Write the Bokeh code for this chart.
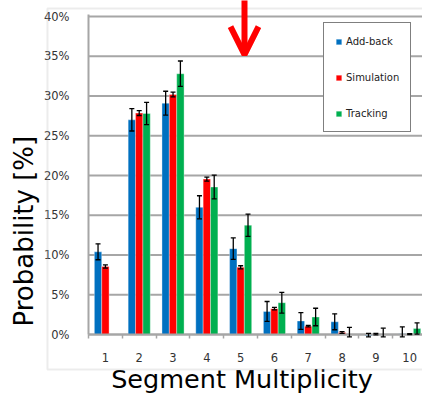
import math

from bokeh.embed import file_html
from bokeh.models import (Arrow, BoxAnnotation, ColumnDataSource, FixedTicker, Label,
                          LinearAxis, OpenHead, PrintfTickFormatter, Range1d, TeeHead,
                          Whisker)
from bokeh.plotting import figure
from bokeh.resources import INLINE

# Segment multiplicity probabilities [%] with uncertainties
multiplicity = [1, 2, 3, 4, 5, 6, 7, 8, 9, 10]
addback = [10.4, 27.0, 29.1, 16.0, 10.8, 2.9, 1.7, 1.6, -0.15, 0.1]
addback_err = [1.0, 1.4, 1.5, 1.45, 1.35, 1.25, 1.05, 1.0, 0.3, 0.85]
simulation = [8.55, 27.85, 30.2, 19.55, 8.45, 3.25, 1.05, 0.25, 0.05, 0.05]
simulation_err = [0.2, 0.3, 0.3, 0.25, 0.2, 0.15, 0.1, 0.1, 0.1, 0.05]
tracking = [0.0, 27.8, 32.8, 18.55, 13.75, 4.0, 2.2, 0.0, 0.0, 0.75]
tracking_err = [0.0, 1.4, 1.6, 1.5, 1.4, 1.3, 1.1, 0.9, 0.8, 0.7]
y_ticks = [0, 5, 10, 15, 20, 25, 30, 35, 40]

FONT = "DejaVu Sans"
GRID = "#a6a6a6"
BAR_W = 0.218
X_LO, X_HI = 0.5, 10.5

# The frame fills the whole canvas; axes sit at fixed data positions inside it
p = figure(width=422, height=394, output_backend="svg", toolbar_location=None,
           x_range=Range1d(-2.103, 10.379), y_range=Range1d(-7.547, 42.013),
           x_axis_location=None, y_axis_location=None,
           min_border_left=0, min_border_right=0, min_border_top=0, min_border_bottom=0)
p.outline_line_color = None
p.background_fill_color = "white"
p.border_fill_color = "white"
p.xgrid.grid_line_color = None
p.ygrid.grid_line_color = None

# horizontal grid lines across the plotting area only
p.segment(x0=[X_LO] * len(y_ticks), x1=[X_HI + 1] * len(y_ticks), y0=y_ticks, y1=y_ticks,
          line_color=GRID, line_width=1.8)

series = [
    ("Add-back", addback, addback_err, "#0070C0", -BAR_W),
    ("Simulation", simulation, simulation_err, "#FF0000", 0.0),
    ("Tracking", tracking, tracking_err, "#00B050", BAR_W),
]

for name, vals, errs, color, shift in series:
    xs = [m + shift for m in multiplicity]
    src = ColumnDataSource(dict(x=xs, top=vals))
    p.vbar(x="x", top="top", bottom=0, width=BAR_W, source=src,
           fill_color=color, line_color="white", line_alpha=0.35, line_width=1,
           legend_label=name)
    ex = [x for x, e in zip(xs, errs) if e > 0]
    lo = [max(v - e, -0.3) for v, e in zip(vals, errs) if e > 0]
    hi = [v + e for v, e in zip(vals, errs) if e > 0]
    esrc = ColumnDataSource(dict(x=ex, lower=lo, upper=hi))
    p.add_layout(Whisker(source=esrc, base="x", lower="lower", upper="upper",
                         level="overlay", line_color="black", line_width=1.3,
                         lower_head=TeeHead(size=5, line_color="black", line_width=1.3),
                         upper_head=TeeHead(size=5, line_color="black", line_width=1.3)))

# x axis on the 0 % line, category ticks between groups
xaxis = LinearAxis(fixed_location=0, bounds=(X_LO, X_HI + 1),
                   ticker=FixedTicker(ticks=multiplicity,
                                      minor_ticks=[m - 0.5 for m in multiplicity] + [10.5]))
xaxis.major_tick_line_color = None
xaxis.minor_tick_line_color = GRID
xaxis.minor_tick_line_width = 1.5
xaxis.minor_tick_out = 4
xaxis.minor_tick_in = 0
xaxis.axis_line_color = GRID
xaxis.axis_line_width = 2
xaxis.major_label_standoff = 12
p.add_layout(xaxis, "below")

yaxis = LinearAxis(fixed_location=X_LO, bounds=(0, 40.2),
                   ticker=FixedTicker(ticks=y_ticks),
                   formatter=PrintfTickFormatter(format="%d%%"))
yaxis.major_tick_line_color = None
yaxis.minor_tick_line_color = None
yaxis.axis_line_color = GRID
yaxis.axis_line_width = 2
yaxis.major_label_standoff = 13
p.add_layout(yaxis, "left")

for ax in (xaxis, yaxis):
    ax.major_label_text_font = FONT
    ax.major_label_text_font_size = "11.5px"
    ax.major_label_text_color = "#333333"

# axis titles
p.add_layout(Label(x=-1.408, y=13.0, text="Probability [%]", angle=math.pi / 2,
                   text_align="center", text_baseline="alphabetic",
                   text_font=FONT, text_font_size="26px", text_color="black"))
p.add_layout(Label(x=5.04, y=-5.65, text="Segment Multiplicity",
                   text_align="center", text_baseline="alphabetic",
                   text_font=FONT, text_font_size="25.5px", text_color="black"))

# chart area border
p.add_layout(BoxAnnotation(left=-0.713, right=12, top=41.006, bottom=-4.403,
                           fill_color=None, line_color="#c0c0c0", line_width=2))

# red marker arrow
p.add_layout(Arrow(x_start=5.114, y_start=43, x_end=5.114, y_end=35.2,
                   line_color="#FF0000", line_width=6,
                   end=OpenHead(size=28, line_color="#FF0000", line_width=6)))

# legend
p.legend.location = (323, 262)
p.legend.border_line_color = "black"
p.legend.border_line_width = 1
p.legend.background_fill_color = "white"
p.legend.background_fill_alpha = 1
p.legend.padding = 11
p.legend.spacing = 22
p.legend.margin = 0
p.legend.glyph_width = 7
p.legend.glyph_height = 7
p.legend.label_height = 14
p.legend.label_standoff = 4
p.legend.label_text_font = FONT
p.legend.label_text_font_size = "10px"
p.legend.label_text_color = "#222222"

open("out.html", "w").write(file_html(p, INLINE))
